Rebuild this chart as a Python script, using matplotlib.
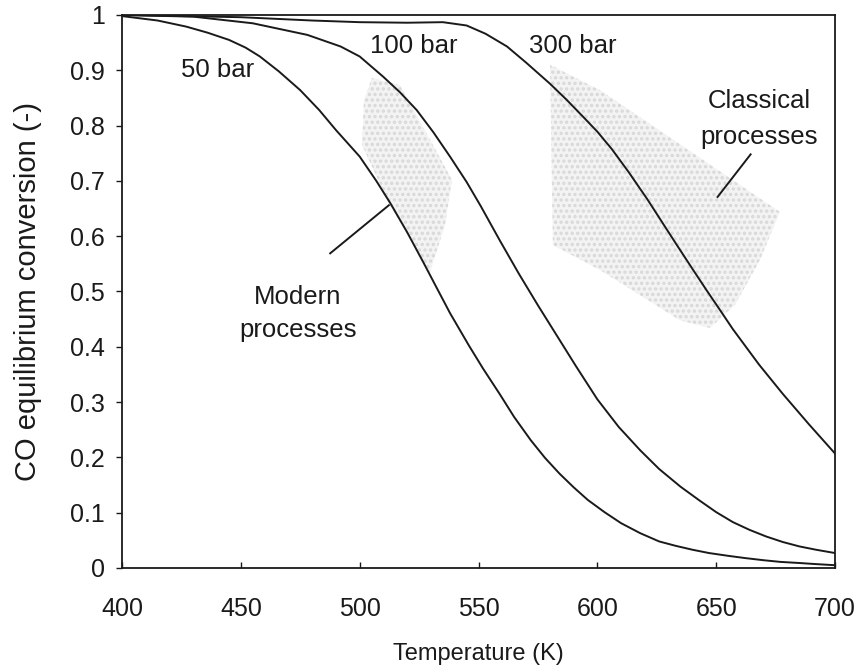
import matplotlib
matplotlib.use("Agg")
import matplotlib.pyplot as plt
from matplotlib.patches import Polygon

plt.rcParams["font.family"] = ["Liberation Sans", "DejaVu Sans"]
plt.rcParams["hatch.linewidth"] = 1.6

# Equilibrium CO conversion vs temperature at three pressures
t_50 = [400, 415, 427, 436, 445, 452, 458, 466, 475, 483, 490, 500, 507, 513,
        520, 527, 532, 538, 546, 552, 559, 565, 572, 578, 584, 590, 596, 603,
        610, 618, 626, 633, 640, 647, 655, 662, 670, 677, 685, 692, 700]
x_50 = [0.998, 0.99, 0.979, 0.968, 0.955, 0.941, 0.925, 0.898, 0.864, 0.828,
        0.792, 0.744, 0.70, 0.659, 0.607, 0.551, 0.51, 0.461, 0.402, 0.36,
        0.314, 0.273, 0.231, 0.199, 0.171, 0.146, 0.123, 0.101, 0.081, 0.063,
        0.048, 0.04, 0.033, 0.027, 0.022, 0.018, 0.014, 0.011, 0.009, 0.007,
        0.005]

t_100 = [400, 430, 455, 478, 492, 500, 510, 517, 524, 531, 538, 545, 551, 559,
         567, 575, 583, 591, 600, 609, 618, 626, 635, 643, 650, 657, 664, 671,
         678, 685, 692, 700]
x_100 = [1.0, 0.997, 0.985, 0.964, 0.943, 0.925, 0.888, 0.86, 0.828, 0.788,
         0.744, 0.698, 0.654, 0.592, 0.532, 0.475, 0.42, 0.365, 0.305, 0.255,
         0.213, 0.179, 0.147, 0.122, 0.101, 0.083, 0.069, 0.057, 0.047, 0.039,
         0.033, 0.027]

t_300 = [400, 450, 480, 500, 520, 535, 545, 553, 562, 570, 580, 587, 594, 600,
         606, 613, 621, 627, 633, 640, 646, 652, 657, 668, 678, 689, 700]
x_300 = [1.0, 0.996, 0.99, 0.987, 0.986, 0.987, 0.981, 0.966, 0.943, 0.914,
         0.876, 0.847, 0.816, 0.789, 0.758, 0.717, 0.667, 0.627, 0.587, 0.541,
         0.502, 0.464, 0.432, 0.368, 0.315, 0.26, 0.207]

# Operating windows (T, conversion)
modern_T = [505.2, 517.0, 538.8, 535.9, 529.6, 512.7, 501.0, 501.8]
modern_X = [0.886, 0.873, 0.702, 0.620, 0.535, 0.656, 0.765, 0.846]
classic_T = [580.1, 601.1, 676.8, 668.4, 657.9, 647.4, 634.7, 601.1, 581.3]
classic_X = [0.910, 0.864, 0.644, 0.557, 0.476, 0.434, 0.448, 0.539, 0.584]

x_ticks = [400, 450, 500, 550, 600, 650, 700]
y_ticks = [0, 0.1, 0.2, 0.3, 0.4, 0.5, 0.6, 0.7, 0.8, 0.9, 1.0]
y_tick_labels = ["0", "0.1", "0.2", "0.3", "0.4", "0.5", "0.6", "0.7", "0.8",
                 "0.9", "1"]

ink = "#1a1a1a"

fig = plt.figure(figsize=(8.61, 6.72), dpi=100)
ax = fig.add_axes([0.1417, 0.1548, 0.8281, 0.8229])

for T, X in ((modern_T, modern_X), (classic_T, classic_X)):
    ax.add_patch(Polygon(list(zip(T, X)), closed=True, facecolor="#f3f3f3",
                         edgecolor="#d8d8d8", hatch="...", linewidth=0,
                         zorder=1))

for T, X in ((t_50, x_50), (t_100, x_100), (t_300, x_300)):
    ax.plot(T, X, color=ink, linewidth=1.4, zorder=3,
            solid_joinstyle="round")

ax.set_xlim(400, 700)
ax.set_ylim(0, 1)
ax.set_xticks(x_ticks)
ax.set_yticks(y_ticks)
ax.set_yticklabels(y_tick_labels)
ax.tick_params(axis="x", direction="in", length=4, width=1, pad=21,
               labelsize=18, colors=ink)
ax.tick_params(axis="y", direction="out", length=4.5, width=1, pad=8,
               labelsize=18, colors=ink)
for s in ax.spines.values():
    s.set_linewidth(1.3)
    s.set_color(ink)

ax.set_xlabel("Temperature (K)", fontsize=17, labelpad=16, color=ink)
ax.set_ylabel("CO equilibrium conversion (-)", fontsize=21, labelpad=20,
              color=ink)

txt = dict(fontsize=18.5, color=ink, zorder=4)
ax.text(440, 0.90, "50 bar", ha="center", va="center", **txt)
ax.text(522.8, 0.944, "100 bar", ha="center", va="center", **txt)
ax.text(589.7, 0.944, "300 bar", ha="center", va="center", **txt)
ax.text(474, 0.49, "Modern", ha="center", va="center", **txt)
ax.text(474, 0.43, "processes", ha="center", va="center", **txt)
ax.text(668, 0.845, "Classical", ha="center", va="center", **txt)
ax.text(668, 0.780, "processes", ha="center", va="center", **txt)

# leader lines from the labels to the regions
ax.plot([487.6, 512.3], [0.569, 0.656], color=ink, linewidth=1.4, zorder=4)
ax.plot([650.6, 664.5], [0.671, 0.748], color=ink, linewidth=1.4, zorder=4)

fig.savefig("out.png", dpi=100)
